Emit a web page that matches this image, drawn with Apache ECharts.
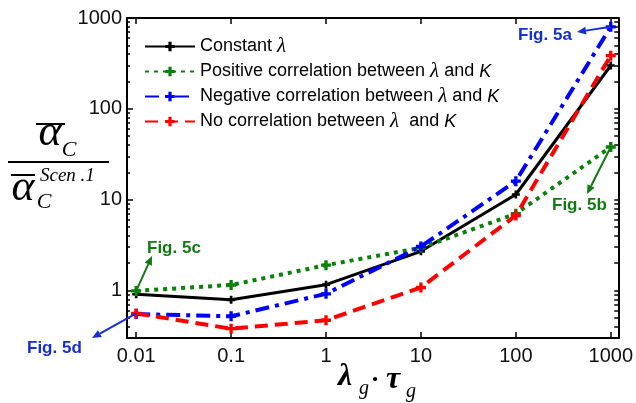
<!DOCTYPE html>
<html>
<head>
<meta charset="utf-8">
<script src="https://cdn.jsdelivr.net/npm/echarts@6/dist/echarts.min.js"></script>
<style>
    html, body {margin: 0; padding: 0; background: #fff;}
    #mychart {width: 636px; height: 403px;}
</style>
</head>
<body>
<div id="mychart"></div>
<script>
// x values (lambda_g * tau_g) and ratio for each scenario
var xValues = [0.01, 0.1, 1, 10, 100, 1000];
var constantLambda = [0.91, 0.79, 1.16, 2.7, 11.4, 300];
var positiveCorr = [0.99, 1.15, 1.9, 2.95, 7.0, 38];
var negativeCorr = [0.55, 0.52, 0.92, 3.05, 16, 800];
var noCorr = [0.56, 0.38, 0.47, 1.08, 6.7, 385];

var xTickValues = [0.01, 0.1, 1, 10, 100, 1000];
var xTickLabels = ['0.01', '0.1', '1', '10', '100', '1000'];
var yTickValues = [1, 10, 100, 1000];
var yTickLabels = ['1', '10', '100', '1000'];

var xMin = 0.008, xMax = 1200;
var yMin = 0.3, yMax = 1000;

var lg = function (v) { return Math.log10(v); };

// minor ticks of the log y axis
var yMinor = [];
[0.1, 1, 10, 100].forEach(function (d) {
    for (var k = 2; k <= 9; k++) {
        var v = k * d;
        if (v >= yMin && v <= yMax) yMinor.push(lg(v));
    }
});

function pts(ys) {
    return xValues.map(function (x, i) { return [lg(x), lg(ys[i])]; });
}

function labelOf(values, labels) {
    return function (v) {
        for (var i = 0; i < values.length; i++) {
            if (Math.abs(lg(values[i]) - v) < 1e-6) return labels[i];
        }
        return '';
    };
}

var plus = 'path://M3,0h3v3h3v3h-3v3h-3v-3h-3v-3h3z';
var green = '#0a820a', blue = '#0000ff', red = '#ff0000';

var axisLineStyle = {color: '#000', width: 2};
var tickStyle = {color: '#000', width: 1.5};

var legendNames = {
    'Constant': 'Constant {l|λ}',
    'Positive': 'Positive correlation between {l|λ} and {k|K}',
    'Negative': 'Negative correlation between {l|λ} and {k|K}',
    'No': 'No correlation between {l|λ}  and {k|K}'
};

var option = {
    animation: false,
    grid: {left: 127, right: 17, top: 18, bottom: 65},
    legend: {
        left: 139,
        top: 31,
        orient: 'vertical',
        itemWidth: 50,
        itemHeight: 12,
        itemGap: 4,
        formatter: function (name) { return legendNames[name]; },
        textStyle: {
            fontSize: 18,
            lineHeight: 20,
            fontFamily: 'Liberation Sans',
            color: '#000',
            rich: {
                l: {fontSize: 21, lineHeight: 20, fontFamily: 'Liberation Serif', fontStyle: 'italic', color: '#000'},
                k: {fontSize: 18, lineHeight: 20, fontFamily: 'Liberation Sans', fontStyle: 'italic', color: '#000'}
            }
        },
        data: ['Constant', 'Positive', 'Negative', 'No']
    },
    xAxis: [
        {
            type: 'value',
            position: 'bottom',
            min: lg(xMin),
            max: lg(xMax),
            splitLine: {show: false},
            axisLine: {onZero: false, lineStyle: axisLineStyle},
            axisTick: {inside: true, length: 6, customValues: xTickValues.map(lg), lineStyle: tickStyle},
            axisLabel: {
                customValues: xTickValues.map(lg),
                formatter: labelOf(xTickValues, xTickLabels),
                fontSize: 20, fontFamily: 'Liberation Sans', color: '#111', margin: 8
            }
        },
        {
            type: 'value',
            position: 'top',
            min: lg(xMin),
            max: lg(xMax),
            splitLine: {show: false},
            axisLine: {onZero: false, lineStyle: axisLineStyle},
            axisTick: {inside: true, length: 6, customValues: xTickValues.map(lg), lineStyle: tickStyle},
            axisLabel: {show: false}
        }
    ],
    yAxis: [
        {
            type: 'value',
            position: 'left',
            min: lg(yMin),
            max: lg(yMax),
            splitLine: {show: false},
            axisLine: {onZero: false, lineStyle: axisLineStyle},
            axisTick: {inside: true, length: 6, customValues: yTickValues.map(lg), lineStyle: tickStyle},
            axisLabel: {
                customValues: yTickValues.map(lg),
                formatter: labelOf(yTickValues, yTickLabels),
                fontSize: 20, fontFamily: 'Liberation Sans', color: '#111', margin: 5
            }
        },
        {
            type: 'value',
            position: 'left',
            min: lg(yMin),
            max: lg(yMax),
            splitLine: {show: false},
            axisLine: {show: false, onZero: false},
            axisTick: {inside: true, length: 3, customValues: yMinor, lineStyle: tickStyle},
            axisLabel: {show: false}
        },
        {
            type: 'value',
            position: 'right',
            min: lg(yMin),
            max: lg(yMax),
            splitLine: {show: false},
            axisLine: {onZero: false, lineStyle: axisLineStyle},
            axisTick: {inside: true, length: 4, customValues: yTickValues.map(lg).concat(yMinor), lineStyle: tickStyle},
            axisLabel: {show: false}
        }
    ],
    series: [
        {
            name: 'Constant', type: 'line', data: pts(constantLambda),
            symbol: plus, symbolSize: 8,
            lineStyle: {color: '#000', width: 3, type: 'solid'},
            itemStyle: {color: '#000'}
        },
        {
            name: 'Positive', type: 'line', data: pts(positiveCorr),
            symbol: plus, symbolSize: 10,
            lineStyle: {color: green, width: 4, type: [4, 5], cap: 'butt'},
            itemStyle: {color: green}
        },
        {
            name: 'Negative', type: 'line', data: pts(negativeCorr),
            symbol: plus, symbolSize: 10,
            lineStyle: {color: blue, width: 4, type: [14, 6, 4, 6], cap: 'butt'},
            itemStyle: {color: blue}
        },
        {
            name: 'No', type: 'line', data: pts(noCorr),
            symbol: plus, symbolSize: 10,
            lineStyle: {color: red, width: 4, type: [13, 7], cap: 'butt'},
            itemStyle: {color: red}
        }
    ]
};

var mychart = echarts.init(document.getElementById('mychart'));
mychart.setOption(option);

// annotation arrows start at the data points
function arrow(series, i, tx, ty, color) {
    var p = mychart.convertToPixel({xAxisIndex: 0, yAxisIndex: 0}, [lg(xValues[i]), lg(series[i])]);
    var dx = tx - p[0], dy = ty - p[1];
    var len = Math.sqrt(dx * dx + dy * dy);
    var ux = dx / len, uy = dy / len;
    var hl = 9, hw = 4;
    var bx = tx - ux * hl, by = ty - uy * hl;
    return [
        {type: 'line', shape: {x1: p[0], y1: p[1], x2: bx, y2: by}, style: {stroke: color, lineWidth: 2}, z: 100},
        {type: 'polygon', shape: {points: [[tx, ty], [bx - uy * hw, by + ux * hw], [bx + uy * hw, by - ux * hw]]}, style: {fill: color}, z: 100}
    ];
}

function txt(x, y, text, font, color, align) {
    return {
        type: 'text', x: x, y: y, z: 100,
        style: {
            text: text, font: font, fill: color || '#000',
            textAlign: align || 'center', textVerticalAlign: 'middle',
            align: align || 'center', verticalAlign: 'middle'
        }
    };
}

function hline(x1, x2, y) {
    return {type: 'line', shape: {x1: x1, y1: y, x2: x2, y2: y}, style: {stroke: '#000', lineWidth: 2}, z: 100};
}

var figBlue = '#1530d0', figGreen = '#137a13';
var serif = '"Liberation Serif"';
var els = [];
els = els.concat(arrow(negativeCorr, 5, 577, 32, figBlue));
els = els.concat(arrow(positiveCorr, 5, 587, 194, figGreen));
els = els.concat(arrow(positiveCorr, 0, 152, 256, figGreen));
els = els.concat(arrow(noCorr, 0, 92, 338, figBlue));
els.push(txt(518, 35, 'Fig. 5a', 'bold 17px "Liberation Sans"', figBlue, 'left'));
els.push(txt(552, 205, 'Fig. 5b', 'bold 17px "Liberation Sans"', figGreen, 'left'));
els.push(txt(147, 248, 'Fig. 5c', 'bold 17px "Liberation Sans"', figGreen, 'left'));
els.push(txt(27, 348, 'Fig. 5d', 'bold 17px "Liberation Sans"', figBlue, 'left'));

// y axis title: mean alpha_C over mean alpha_C of scenario 1
els.push(txt(50, 133, 'α', 'italic 44px ' + serif));
els.push(hline(36, 65, 124));
els.push(txt(69, 150, 'C', 'italic 22px ' + serif));
els.push(hline(8, 109, 162));
els.push(txt(23, 188, 'α', 'italic 44px ' + serif));
els.push(hline(11, 35, 175));
els.push(txt(40, 176, 'Scen .1', 'italic 19px ' + serif, '#000', 'left'));
els.push(txt(44, 202, 'C', 'italic 22px ' + serif));

// x axis title: lambda_g . tau_g
els.push(txt(345, 377, 'λ', 'bold italic 32px ' + serif));
els.push(txt(364, 389, 'g', 'italic 20px ' + serif));
els.push(txt(375, 380, '·', 'bold 26px ' + serif));
els.push(txt(393, 380, 'τ', 'bold italic 32px ' + serif));
els.push(txt(411, 392, 'g', 'italic 20px ' + serif));

mychart.setOption({graphic: {elements: els}});
</script>
</body>
</html>
